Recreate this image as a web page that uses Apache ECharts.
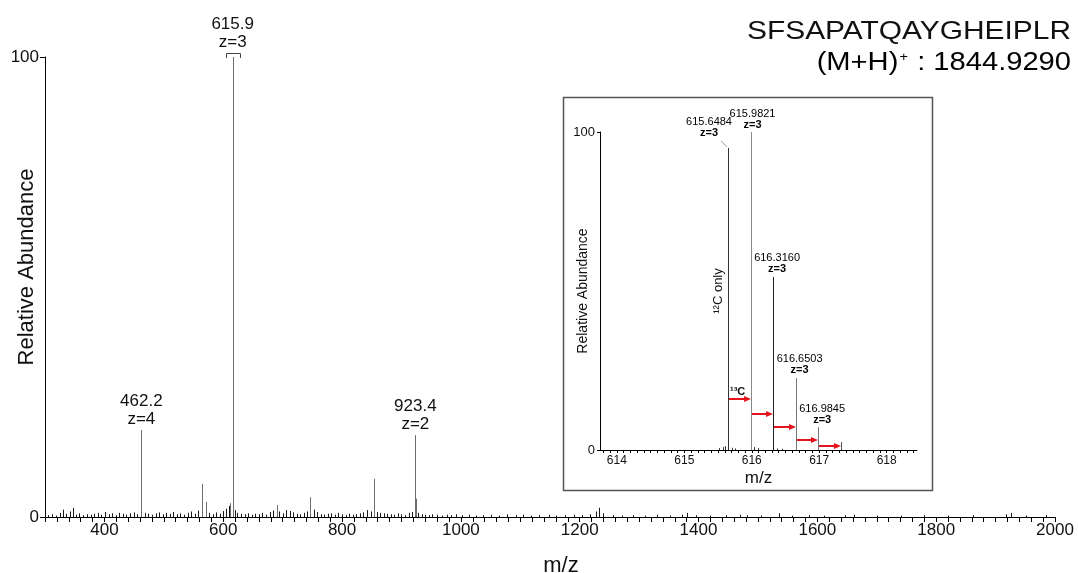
<!DOCTYPE html>
<html><head><meta charset="utf-8">
<script src="https://cdn.jsdelivr.net/npm/echarts@6/dist/echarts.min.js"></script>
<style>html,body{margin:0;padding:0;background:#fff}#c{width:1078px;height:573px}</style>
</head><body><div id="c"></div>
<script>
// ---------- DATA: main spectrum ----------
const peakMz  = [462.2, 563.8, 570.5, 615.65, 615.98, 616.32, 616.65, 690.0, 746.0, 854.0, 923.4, 923.9];
const peakInt = [18.9, 7.2, 3.3, 96, 100, 22.6, 5.0, 2.6, 4.3, 8.3, 17.8, 4.0];
const noiseMz = [305,312,318,326,331,336,342,347,353,358,364,371,377,383,389,395,401,407,413,419,425,431,437,443,449,455,468,474,480,486,492,498,504,510,516,522,528,534,540,546,552,558,576,582,588,594,600,605,609,612,619,624,630,636,642,648,654,660,666,672,678,684,694,700,706,712,718,724,730,736,741,752,758,764,770,776,782,788,794,800,806,812,818,824,830,836,842,848,858,864,870,876,882,888,894,900,906,912,918,928,934,940,946,952,960,968,976,984,992,1002,1014,1026,1038,1050,1064,1078,1092,1105,1118,1132,1148,1160,1175,1190,1204,1218,1228,1233,1240,1256,1272,1290,1310,1330,1352,1372,1381,1395,1420,1446,1470,1482,1505,1536,1558,1586,1612,1646,1662,1700,1740,1780,1820,1862,1918,1926,1952,1985];
const noiseInt = [0.4,0.6,0.3,0.9,1.6,0.7,1.2,2.0,0.5,0.8,0.4,0.6,0.5,0.7,0.9,0.5,1.1,0.6,0.8,0.4,0.9,0.7,0.5,0.8,1.0,0.6,0.9,0.7,0.5,0.8,1.0,0.6,0.9,0.7,1.1,0.6,0.8,0.5,0.9,1.2,0.7,1.4,0.9,0.6,1.0,0.7,1.3,1.8,2.4,3.0,1.5,0.9,0.7,0.6,0.8,0.5,0.7,0.6,0.9,0.5,1.1,1.4,1.2,0.8,1.5,1.3,1.0,0.7,0.6,0.9,1.2,1.6,1.1,0.6,0.5,0.7,0.8,0.5,0.9,0.6,0.4,0.7,0.5,0.6,0.8,1.0,1.5,1.2,1.1,0.9,0.8,0.7,0.6,0.5,0.8,0.6,0.4,0.9,1.1,0.9,0.6,0.5,0.4,0.6,0.5,0.3,0.5,0.4,0.6,0.4,0.5,0.3,0.4,0.5,0.3,0.6,0.4,0.5,0.3,0.4,0.5,0.3,0.4,0.5,0.4,0.6,1.2,2.0,0.8,0.4,0.3,0.4,0.3,0.5,0.3,0.5,0.9,0.4,0.3,0.4,0.5,0.4,0.3,0.8,0.3,0.4,0.3,0.4,0.5,0.3,0.3,0.4,0.3,0.4,0.6,0.9,0.3,0.4];
const mainLabelMz   = [462.2, 615.9, 923.4];
const mainLabelInt  = [18.9, 100, 17.8];
const mainLabelMass = ['462.2', '615.9', '923.4'];
const mainLabelZ    = ['z=4', 'z=3', 'z=2'];
const mainXLabels = [400, 600, 800, 1000, 1200, 1400, 1600, 1800, 2000];
const mainYLabels = [0, 100];

// ---------- DATA: inset (isotope envelope) ----------
const insetMz  = [615.6484, 615.9821, 616.3160, 616.6503, 616.9845, 617.3187];
const insetInt = [95, 100, 54.4, 22.6, 7.2, 2.5];
const insetMass = ['615.6484', '615.9821', '616.3160', '616.6503', '616.9845'];
const insetZ    = ['z=3', 'z=3', 'z=3', 'z=3', 'z=3'];
const insetNoiseMz  = [615.52, 615.57, 615.61, 615.70, 615.75, 616.04, 616.09, 616.38, 616.45];
const insetNoiseInt = [0.6, 0.9, 1.2, 0.7, 0.5, 0.9, 0.6, 0.5, 0.4];
const arrowHeights = [16, 11.3, 7.2, 3.1, 1.3];
const insetXLabels = [614, 615, 616, 617, 618];
const insetYLabels = [0, 100];

// ---------- helpers ----------
const FONT = '"Liberation Sans", Arial, Helvetica, sans-serif';
function range(a, b, step) { const out = []; for (let v = a; v <= b + 1e-9; v += step) out.push(Math.round(v * 100) / 100); return out; }
const mainTicks = range(300, 2000, 20);
const insetTicks = range(613.8, 618.4, 0.1);
const plain = v => String(v);

const mainSticks = peakMz.map((m, i) => [m, peakInt[i]]).concat(noiseMz.map((m, i) => [m, noiseInt[i]]));
const insetSticks = insetMz.map((m, i) => [m, insetInt[i]]).concat(insetNoiseMz.map((m, i) => [m, insetNoiseInt[i]]));

function stick(colorFn) {
  return function (params, api) {
    const x = api.value(0), y = api.value(1);
    const p0 = api.coord([x, 0]), p1 = api.coord([x, y]);
    const px = Math.round(p0[0]) + 0.5;
    return { type: 'line', shape: { x1: px, y1: p0[1], x2: px, y2: p1[1] },
      style: { stroke: colorFn(y, params.dataIndex), lineWidth: 1 } };
  };
}

// label styling (not data)
const mainLabelGap = [2, 6, 2];
const mainBracket = [false, true, false];
const insetLabelDx = [-19, 2, 4, 4, 4];
const insetLabelGap = [9, 2, 3, 3, 2];
const insetPeakColor = ['#333', '#888', '#222', '#777', '#777', '#555'];

const option = {
  animation: false,
  backgroundColor: '#fff',
  textStyle: { fontFamily: FONT },
  grid: [
    { left: 45, right: 23, top: 57, bottom: 56, containLabel: false, outerBoundsMode: 'none' },
    { left: 600, top: 132, width: 317, height: 318, containLabel: false, outerBoundsMode: 'none' }
  ],
  xAxis: [
    { type: 'value', gridIndex: 0, min: 300, max: 2000,
      name: 'm/z', nameLocation: 'middle', nameGap: 38, nameMoveOverlap: false,
      nameTextStyle: { fontSize: 22, color: '#111', fontFamily: FONT, padding: [0, 0, 0, 22] },
      axisLine: { show: true, onZero: false, lineStyle: { color: '#000', width: 1 } },
      axisTick: { show: true, length: 5, customValues: mainTicks, lineStyle: { color: '#000' } },
      axisLabel: { customValues: mainXLabels, formatter: plain, fontSize: 17, color: '#111', margin: 5, fontFamily: FONT },
      splitLine: { show: false } },
    { type: 'value', gridIndex: 1, min: 613.75, max: 618.45,
      name: 'm/z', nameLocation: 'middle', nameGap: 20, nameMoveOverlap: false,
      nameTextStyle: { fontSize: 17, color: '#111', fontFamily: FONT },
      axisLine: { show: true, onZero: false, lineStyle: { color: '#000', width: 1 } },
      axisTick: { show: true, length: 3, customValues: insetTicks, lineStyle: { color: '#000' } },
      axisLabel: { customValues: insetXLabels, formatter: plain, fontSize: 12, color: '#111', margin: 5, fontFamily: FONT },
      splitLine: { show: false } }
  ],
  yAxis: [
    { type: 'value', gridIndex: 0, min: 0, max: 100,
      name: 'Relative Abundance', nameLocation: 'middle', nameGap: 7, nameRotate: 90, nameMoveOverlap: false,
      nameTextStyle: { fontSize: 22, color: '#111', fontFamily: FONT, padding: [0, 0, 0, 40] },
      axisLine: { show: true, lineStyle: { color: '#000', width: 1 } },
      axisTick: { show: true, length: 5, customValues: mainYLabels, lineStyle: { color: '#000' } },
      axisLabel: { customValues: mainYLabels, formatter: plain, fontSize: 17, color: '#111', margin: 6, fontFamily: FONT },
      splitLine: { show: false } },
    { type: 'value', gridIndex: 1, min: 0, max: 100,
      name: 'Relative Abundance', nameLocation: 'middle', nameGap: 10, nameRotate: 90, nameMoveOverlap: false,
      nameTextStyle: { fontSize: 14, color: '#111', fontFamily: FONT },
      axisLine: { show: true, lineStyle: { color: '#000', width: 1 } },
      axisTick: { show: true, length: 3, customValues: insetYLabels, lineStyle: { color: '#000' } },
      axisLabel: { customValues: insetYLabels, formatter: plain, fontSize: 13, color: '#111', margin: 5, fontFamily: FONT },
      splitLine: { show: false } }
  ],
  graphic: [
    { type: 'rect', z: -10, shape: { x: 563.5, y: 97.5, width: 369, height: 393 },
      style: { fill: 'transparent', stroke: '#555', lineWidth: 1.5 } },
    { type: 'text', x: 1071, y: 19, scaleX: 1.15, style: { text: 'SFSAPATQAYGHEIPLR', font: '26px ' + FONT, fill: '#111', align: 'right', verticalAlign: 'top' } },
    { type: 'text', x: 1071, y: 48, scaleX: 1.12, style: {
        text: '{a|(M+H)}{s|+}{a| : 1844.9290}', align: 'right', verticalAlign: 'top',
        rich: { a: { fontSize: 26, fontFamily: FONT, color: '#111', lineHeight: 30 },
                s: { fontSize: 13, fontFamily: FONT, color: '#111', lineHeight: 30, verticalAlign: 'top', padding: [3, 1, 0, 1] } } } }
  ],
  series: [
    { type: 'custom', xAxisIndex: 0, yAxisIndex: 0, clip: true, z: 3,
      data: mainSticks, renderItem: stick(y => (y > 2.5 ? '#6e6e6e' : '#1a1a1a')) },
    { type: 'custom', xAxisIndex: 0, yAxisIndex: 0, clip: false, z: 4,
      data: mainLabelMz.map((m, i) => [m, mainLabelInt[i]]),
      renderItem: function (params, api) {
        const i = params.dataIndex;
        const p = api.coord([api.value(0), api.value(1)]);
        const children = [{ type: 'text', x: p[0], y: p[1] - mainLabelGap[i],
          style: { text: mainLabelMass[i] + '\n' + mainLabelZ[i], font: '17px ' + FONT, fill: '#111', align: 'center', verticalAlign: 'bottom', lineHeight: 18 } }];
        if (mainBracket[i]) {
          const x = Math.round(p[0]) + 0.5;
          children.push({ type: 'polyline', shape: { points: [[x - 7, p[1] + 1], [x - 7, p[1] - 3.5], [x + 7, p[1] - 3.5], [x + 7, p[1] + 1]] },
            style: { stroke: '#444', lineWidth: 1, fill: null } });
        }
        return { type: 'group', children: children };
      } },
    { type: 'custom', xAxisIndex: 1, yAxisIndex: 1, clip: true, z: 3,
      data: insetSticks, renderItem: stick((y, i) => (i < insetPeakColor.length ? insetPeakColor[i] : '#333')) },
    { type: 'custom', xAxisIndex: 1, yAxisIndex: 1, clip: false, z: 5,
      data: arrowHeights.map((h, i) => [insetMz[i], insetMz[i + 1], h]),
      renderItem: function (params, api) {
        const a = api.coord([api.value(0), api.value(2)]);
        const b = api.coord([api.value(1), api.value(2)]);
        const y = Math.round(a[1]);
        const x1 = Math.round(a[0]) + 1, x2 = Math.round(b[0]);
        const children = [
          { type: 'line', shape: { x1: x1, y1: y, x2: x2 - 5, y2: y }, style: { stroke: '#e3141b', lineWidth: 2 } },
          { type: 'polygon', shape: { points: [[x2, y], [x2 - 7, y - 3], [x2 - 7, y + 3]] }, style: { fill: '#e3141b' } }
        ];
        if (params.dataIndex === 0) {
          children.push({ type: 'text', x: x1 + 1, y: y - 2, style: { text: '¹³C', font: 'bold 11px ' + FONT, fill: '#111', align: 'left', verticalAlign: 'bottom' } });
        }
        return { type: 'group', children: children };
      } },
    { type: 'custom', xAxisIndex: 1, yAxisIndex: 1, clip: false, z: 5,
      data: insetMass.map((s, i) => [insetMz[i], insetInt[i]]),
      renderItem: function (params, api) {
        const i = params.dataIndex;
        const p = api.coord([api.value(0), api.value(1)]);
        const children = [{ type: 'text', x: p[0] + insetLabelDx[i], y: p[1] - insetLabelGap[i],
          style: { text: '{m|' + insetMass[i] + '}\n{z|' + insetZ[i] + '}', align: 'center', verticalAlign: 'bottom',
            rich: { m: { fontSize: 11, fontFamily: FONT, color: '#111', lineHeight: 11 },
                    z: { fontSize: 11, fontFamily: FONT, fontWeight: 'bold', color: '#111', lineHeight: 11 } } } }];
        if (i === 0) {
          children.push({ type: 'line', shape: { x1: p[0] - 7, y1: p[1] - 7, x2: p[0] - 1, y2: p[1] - 1 }, style: { stroke: '#999', lineWidth: 1 } });
          const mid = api.coord([api.value(0), 50]);
          children.push({ type: 'text', x: p[0] - 10, y: mid[1], rotation: Math.PI / 2,
            style: { text: '¹²C only', font: '13px ' + FONT, fill: '#111', align: 'center', verticalAlign: 'middle' } });
        }
        return { type: 'group', children: children };
      } }
  ]
};
const chart = echarts.init(document.getElementById('c'));
chart.setOption(option);
</script>
</body></html>
